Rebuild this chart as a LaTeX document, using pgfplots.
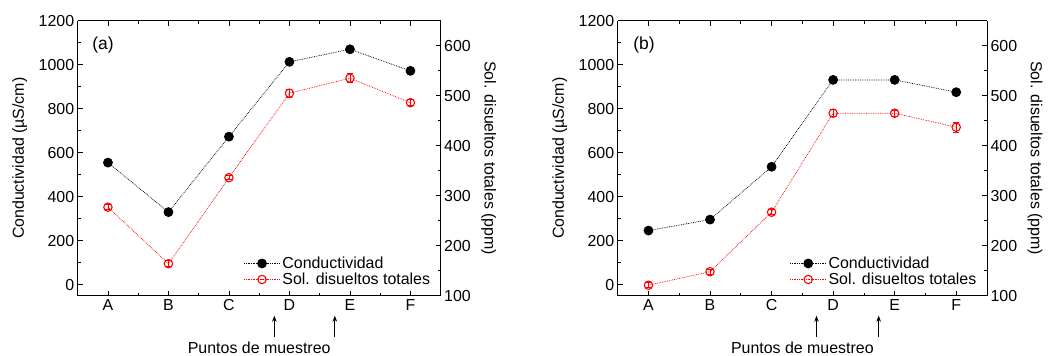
\documentclass[border=0pt]{standalone}
\usepackage{fontspec}
\setmainfont{Liberation Sans}
\usepackage{pgfplots}
\pgfplotsset{compat=1.18}
\usetikzlibrary{arrows.meta}

\pgfplotsset{
  base/.style={
    scale only axis, height=275bp, xmin=-0.5, xmax=5.5, clip=false,
    tick label style={font=\fontsize{16}{19}\selectfont},
    label style={font=\fontsize{16}{19}\selectfont},
    /pgf/number format/assume math mode=true,
    /pgf/number format/1000 sep={},
    major tick length=5bp, minor tick length=3bp,
    tick style={line width=0.8pt, black},
    axis line style={line width=0.9pt},
  },
  leftax/.style={
    base, axis y line*=left, ymin=-50, ymax=1200,
    ytick={0,200,...,1200}, minor y tick num=1,
    xtick={0,...,5}, xticklabels={A,B,C,D,E,F}, minor x tick num=1,
    ylabel={Conductividad (µS/cm)},
    ylabel style={at={([xshift=-58bp]axis description cs:0,0.5)}, anchor=center},
    xlabel={Puntos de muestreo},
    xlabel style={at={([yshift=-52bp]axis description cs:0.5,0)}, anchor=center},
  },
  rightax/.style={
    base, axis y line*=right, axis x line=none, ymin=100, ymax=650,
    ytick={100,200,...,600}, minor y tick num=1,
    ylabel={Sol. disueltos totales (ppm)},
    every axis y label/.style={at={([xshift=48bp]axis description cs:1,0.5)}, anchor=center, rotate=-90,
      font=\fontsize{16}{19}\selectfont},
    legend style={draw=none, fill=none, font=\fontsize{16}{19}\selectfont,
      at={(axis description cs:0.985,0.02)}, anchor=south east,
      row sep=-1bp},
    legend cell align=left,
    legend image code/.code={\draw[mark repeat=2,mark phase=2,#1] plot coordinates {(0bp,0bp) (18bp,0bp) (36bp,0bp)};},
  },
  condst/.style={black, densely dotted, line width=0.75pt, mark=*, mark size=4.5bp,
    mark options={solid, fill=black}},
  solst/.style={red, densely dotted, line width=0.75pt, mark=o, mark size=4.2bp,
    mark options={solid, line width=1.1pt, fill=white}},
  ebar/.style={error bars/.cd, y dir=both, y explicit,
    error bar style={solid, line width=0.7pt}, error mark options={rotate=90, mark size=3bp, solid, line width=0.7pt}},
}

\begin{document}
\begin{tikzpicture}
\useasboundingbox (-77.7bp,-60.3bp) rectangle (978.3bp,295.7bp);

% ---------- Panel (a) ----------
\begin{axis}[leftax, at={(0bp,0bp)}, anchor=south west, width=363bp]
\addplot[condst, ebar] coordinates {
  (0,555) +- (0,8) (1,330) +- (0,8) (2,673) +- (0,8) (3,1013) +- (0,12) (4,1070) +- (0,15) (5,972) +- (0,10)};
\node[anchor=west, inner sep=0pt, font=\fontsize{17.5}{20}\selectfont] at (rel axis cs:0.04,0.91) {(a)};
\draw[-{Stealth[length=6bp,width=4.5bp]}, line width=0.7pt] ([yshift=-41bp]axis cs:2.75,-50) -- ([yshift=-20bp]axis cs:2.75,-50);
\draw[-{Stealth[length=6bp,width=4.5bp]}, line width=0.7pt] ([yshift=-41bp]axis cs:3.75,-50) -- ([yshift=-20bp]axis cs:3.75,-50);
\end{axis}
\begin{axis}[rightax, at={(0bp,0bp)}, anchor=south west, width=363bp]
\addlegendimage{condst}
\addlegendentry{Conductividad}
\addplot[solst, ebar] coordinates {
  (0,277) +- (0,5) (1,164) +- (0,6) (2,336) +- (0,4) (3,505) +- (0,8) (4,535) +- (0,9) (5,486) +- (0,6)};
\addlegendentry{Sol. disueltos totales}
\end{axis}

% ---------- Panel (b) ----------
\begin{axis}[leftax, at={(540bp,0bp)}, anchor=south west, width=369.3bp]
\addplot[condst, ebar] coordinates {
  (0,246) +- (0,8) (1,296) +- (0,8) (2,536) +- (0,8) (3,931) +- (0,10) (4,931) +- (0,10) (5,875) +- (0,10)};
\node[anchor=west, inner sep=0pt, font=\fontsize{17.5}{20}\selectfont] at (rel axis cs:0.042,0.91) {(b)};
\draw[-{Stealth[length=6bp,width=4.5bp]}, line width=0.7pt] ([yshift=-41bp]axis cs:2.73,-50) -- ([yshift=-20bp]axis cs:2.73,-50);
\draw[-{Stealth[length=6bp,width=4.5bp]}, line width=0.7pt] ([yshift=-41bp]axis cs:3.74,-50) -- ([yshift=-20bp]axis cs:3.74,-50);
\end{axis}
\begin{axis}[rightax, at={(540bp,0bp)}, anchor=south west, width=369.3bp]
\addlegendimage{condst}
\addlegendentry{Conductividad}
\addplot[solst, ebar] coordinates {
  (0,121) +- (0,5) (1,148) +- (0,5) (2,267) +- (0,5) (3,465) +- (0,7) (4,465) +- (0,6) (5,437) +- (0,10)};
\addlegendentry{Sol. disueltos totales}
\end{axis}
\end{tikzpicture}
\end{document}
